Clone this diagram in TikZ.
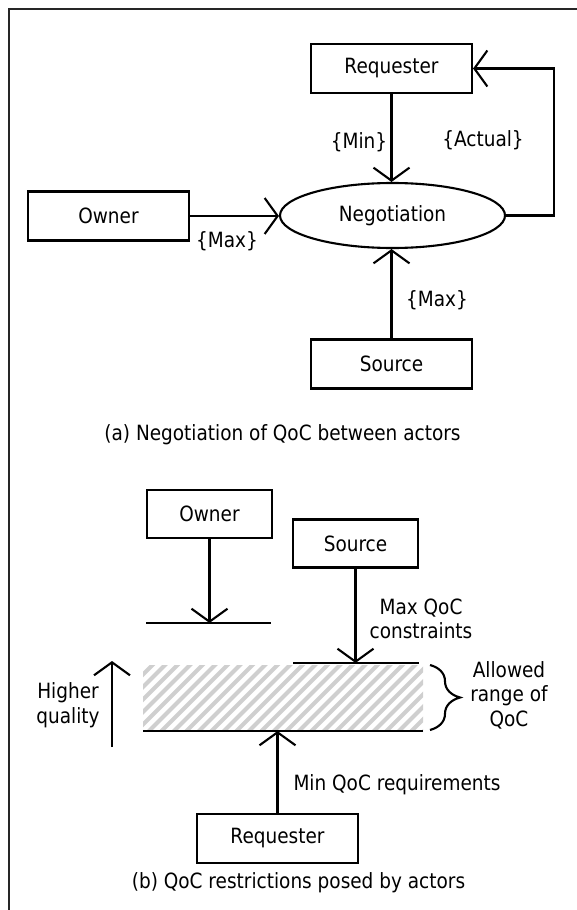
\documentclass[tikz,border=0pt]{standalone}
\usepackage{fontspec}
\setmainfont{DejaVu Sans}[FakeStretch=0.88]
\usetikzlibrary{arrows.meta,decorations.pathreplacing,shapes.geometric}

\tikzset{
  box/.style={draw, line width=2.1pt, minimum width=161pt, minimum height=49pt, inner sep=0pt},
  smallbox/.style={box, minimum width=125pt, minimum height=48pt},
  flow/.style={line width=2.1pt, -{Straight Barb[length=13pt,width=36pt]}},
  limit/.style={line width=1.4pt},
  hatchline/.style={gray!38, line width=4.2pt},
  bracestyle/.style={line width=2.1pt, decorate, decoration={brace, amplitude=30pt}},
  txt/.style={align=center, inner sep=1pt}
}

\begin{document}
\begin{tikzpicture}[x=1pt, y=-1pt, font=\fontsize{21}{24.5}\selectfont]
\useasboundingbox (0,0) rectangle (577,910);

% outer frame (only left and top edges fall inside the page)
\draw[line width=2.2pt, black!85] (9,920) -- (9,9.3) -- (590,9.3);

% ---------- (a) negotiation ----------
\node[box] (req) at (391.5,68.5) {Requester};
\node[box] (own) at (108.5,216) {Owner};
\node[ellipse, draw, line width=2.1pt, minimum width=225pt, minimum height=65pt, inner sep=0pt] (neg) at (392.5,215.5) {Negotiation};
\node[box] (src) at (391.5,364) {Source};

\draw[flow] (req.south) -- (req.south |- neg.north);
\draw[flow] (own.east) -- (own.east -| neg.west);
\draw[flow] (src.north) -- (src.north |- neg.south);
\draw[flow] (neg.east) -- ++(48,0) |- (req.east);

\node[txt] (lmin) at (359,142) {\{Min\}};
\node[txt] (lact) at (483,140) {\{Actual\}};
\node[txt] (lmaxo) at (227,241) {\{Max\}};
\node[txt] (lmaxs) at (437,300) {\{Max\}};
\node[txt] (capa) at (282.5,435) {(a) Negotiation of QoC between actors};

% ---------- (b) restrictions ----------
\node[smallbox] (own2) at (209.5,514) {Owner};
\node[smallbox] (src2) at (355.5,543.5) {Source};

% allowed band, hatched
\begin{scope}
  \clip (143,665) rectangle (423,731);
  \foreach \k in {0,...,30}
    \draw[hatchline] ({143-75+\k*12.5},737) -- ++(80,-80);
\end{scope}

\coordinate (ownA) at (146,623);
\coordinate (ownB) at (271,623);
\coordinate (srcA) at (293,663);
\coordinate (srcB) at (419,663);
\coordinate (minA) at (143,731);
\coordinate (minB) at (423,731);
\draw[limit] (ownA) -- (ownB);
\draw[limit] (srcA) -- (srcB);
\draw[limit] (minA) -- (minB);

\draw[flow] (own2.south) -- (own2.south |- ownA);
\draw[flow] (src2.south) -- (src2.south |- srcA);

\node[box] (req2) at (277.5,838.5) {Requester};
\draw[flow] (req2.north) -- (req2.north |- minA);

\node[txt] (maxc) at (421,619) {Max QoC\\constraints};
\node[txt] (minr) at (397,785) {Min QoC requirements};
\node[txt] (allow) at (509,695) {Allowed\\range of\\QoC};
\node[txt] (hq) at (68,705) {Higher\\quality};

\coordinate (hqB) at (112,747);
\coordinate (hqT) at (112,661);
\draw[flow] (hqB) -- (hqT);

\coordinate (brT) at (430,665);
\coordinate (brB) at (430,730);
\draw[bracestyle] (brT) -- (brB);

\node[txt] (capb) at (298.5,883) {(b) QoC restrictions posed by actors};
\end{tikzpicture}
\end{document}
